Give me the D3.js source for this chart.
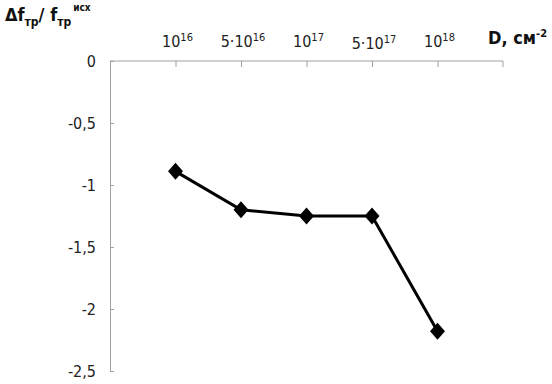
<!DOCTYPE html>
<html><head><meta charset="utf-8">
<script src="https://cdn.jsdelivr.net/npm/d3@7"></script>
<style>body{margin:0;background:#fff}svg{display:block}</style>
</head><body>
<svg id="c" width="552" height="384"></svg>
<script>
const categories = ["10^16", "5·10^16", "10^17", "5·10^17", "10^18"];
const labelBase = ["10", "5·10", "10", "5·10", "10"];
const labelExp = ["16", "16", "17", "17", "18"];
const values = [-0.89, -1.20, -1.25, -1.25, -2.18];
const yTicks = [0, -0.5, -1, -1.5, -2, -2.5];

(function () {
const svg = d3.select("#c");
const font = "'DejaVu Sans Condensed','Liberation Sans Narrow','Open Sans',sans-serif";
const pL = 110, pR = 503, pT = 61, pB = 371;

const x = d3.scalePoint().domain(categories).range([pL, pR]).padding(1);
const y = d3.scaleLinear().domain([0, -2.5]).range([pT, pB]);

// Y axis
const yAxis = d3.axisLeft(y).tickValues(yTicks).tickSize(-4).tickPadding(14)
  .tickFormat(d => String(d).replace(".", ","));
const gy = svg.append("g").attr("transform", `translate(${pL},0)`).call(yAxis);
gy.select(".domain").attr("stroke", "#a0a0a0").attr("stroke-width", 1);
gy.selectAll(".tick line").attr("stroke", "#a0a0a0");
gy.selectAll(".tick text").attr("font-family", font).attr("font-size", 16).attr("fill", "#222");

// X axis (on top, ticks inward)
const xAxis = d3.axisTop(x).tickSize(-6).tickFormat("");
const gx = svg.append("g").attr("transform", `translate(0,${pT})`).call(xAxis);
gx.select(".domain").attr("d", `M${pL},0H${pR}`).attr("stroke", "#a0a0a0");
gx.selectAll(".tick line").attr("stroke", "#a0a0a0");
gx.append("line").attr("x1", pR).attr("x2", pR).attr("y1", 0).attr("y2", 6).attr("stroke", "#a0a0a0");

// X labels
categories.forEach((c, i) => {
  const t = svg.append("text").attr("x", x(c) + 2).attr("y", i === 3 ? 49 : 47)
    .attr("text-anchor", "middle").attr("font-family", font).attr("font-size", 16).attr("fill", "#222");
  t.append("tspan").text(labelBase[i]);
  t.append("tspan").attr("font-size", 11).attr("dy", -6).text(labelExp[i]);
});

// Axis title X
const tx = svg.append("text").attr("x", 488).attr("y", 44).attr("font-family", font)
  .attr("font-size", 18).attr("font-weight", "bold").attr("fill", "#111");
tx.append("tspan").text("D, см");
tx.append("tspan").attr("font-size", 11).attr("dy", -7).text("-2");

// Axis title Y
const ty = svg.append("text").attr("x", 5).attr("y", 21).attr("font-family", font)
  .attr("font-size", 18).attr("font-weight", "bold").attr("fill", "#111");
ty.append("tspan").text("Δf");
ty.append("tspan").attr("font-size", 12).attr("dy", 5).text("тр");
ty.append("tspan").attr("dy", -5).text("/ f");
ty.append("tspan").attr("font-size", 12).attr("dy", 5).text("тр");
ty.append("tspan").attr("font-size", 10).attr("dy", -15).attr("dx", 2).text("исх");

// Line
const line = d3.line().x((d, i) => x(categories[i])).y(d => y(d));
svg.append("path").datum(values).attr("d", line).attr("fill", "none")
  .attr("stroke", "#000").attr("stroke-width", 3);

// Markers
svg.selectAll(".m").data(values).enter().append("path")
  .attr("transform", (d, i) => `translate(${x(categories[i])},${y(d)}) scale(0.88,1) rotate(45)`)
  .attr("d", d3.symbol(d3.symbolSquare, 145)).attr("fill", "#000");
})();
</script>
</body></html>
